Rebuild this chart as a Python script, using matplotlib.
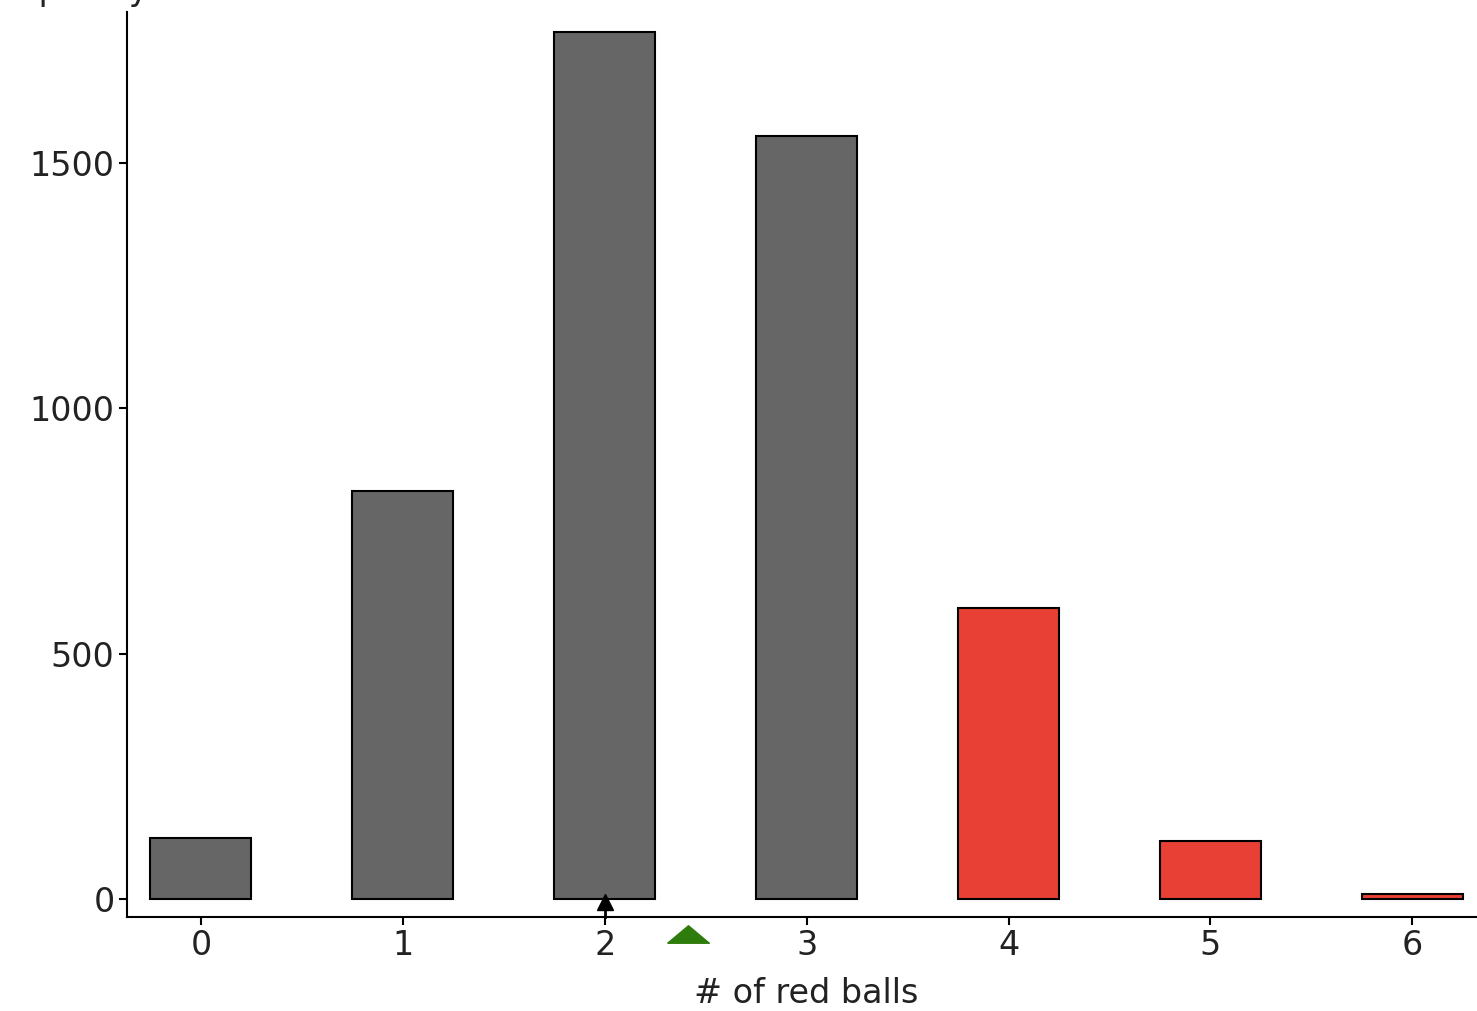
import numpy as np
import matplotlib.pyplot as plt
from matplotlib.path import Path

# number of red balls drawn and how often each count came up
red_balls = [0, 1, 2, 3, 4, 5, 6]
frequency = [124, 831, 1767, 1555, 593, 118, 10]
bar_colors = ['#666666', '#666666', '#666666', '#666666', '#e84034', '#e84034', '#e84034']
observed = 2
mean_count = 2.41

plt.rcParams['font.family'] = ['DejaVu Sans']

fig = plt.figure(figsize=(14.77, 10.11), dpi=100)
ax = fig.add_axes([0.086, 0.093, 0.914, 0.895])

ax.bar(red_balls, frequency, width=0.5, color=bar_colors, edgecolor='black', linewidth=1.5, zorder=2)

ax.set_xlim(-0.366, 6.32)
ax.set_ylim(-37, 1808)
ax.set_xticks(red_balls)
ax.set_yticks([0, 500, 1000, 1500])
ax.tick_params(direction='out', length=6, width=1.5, labelsize=24, colors='black',
               labelcolor='#222222', pad=3)

for s in ['top', 'right']:
    ax.spines[s].set_visible(False)
for s in ['left', 'bottom']:
    ax.spines[s].set_linewidth(1.5)

ax.set_xlabel('# of red balls', fontsize=24, color='#222222')
ax.xaxis.set_label_coords(0.503, -0.066)

# observed value arrow on the axis
ax.plot([observed, observed], [-37, -10], color='black', lw=2, clip_on=False, zorder=4)
ax.plot(observed, -6, marker='^', color='black', markersize=11, clip_on=False, zorder=4)

# mean marker under the axis
tri = Path([(-1, -0.42), (1, -0.42), (0, 0.42), (-1, -0.42)])
ax.scatter([mean_count], [-72], marker=tri, s=900, color='#2e7d0c', clip_on=False, zorder=4)

fig.text(-0.016, 1.0, 'Frequency', fontsize=24, ha='left', va='baseline', color='#222222')

fig.savefig('out.png', dpi=100)
